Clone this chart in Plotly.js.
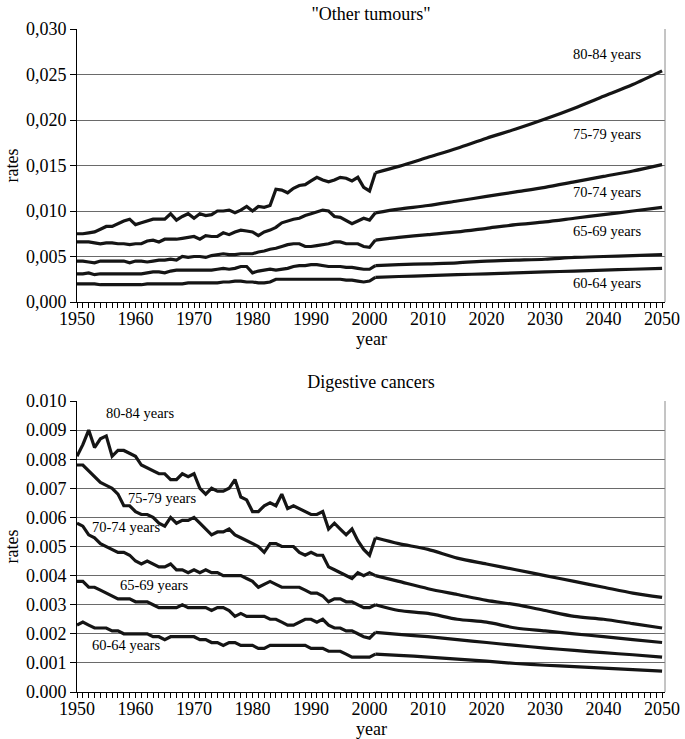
<!DOCTYPE html>
<html><head><meta charset="utf-8">
<script src="https://cdn.plot.ly/plotly-3.0.1.min.js"></script>
<style>html,body{margin:0;padding:0;background:#fff;overflow:hidden}</style>
</head><body>
<div id="top" style="width:685px;height:370px"></div>
<div id="bot" style="width:685px;height:369px"></div>
<script>
// x values: annual 1950-2001, then projections every 5 years
const years = [1950,1951,1952,1953,1954,1955,1956,1957,1958,1959,
  1960,1961,1962,1963,1964,1965,1966,1967,1968,1969,
  1970,1971,1972,1973,1974,1975,1976,1977,1978,1979,
  1980,1981,1982,1983,1984,1985,1986,1987,1988,1989,
  1990,1991,1992,1993,1994,1995,1996,1997,1998,1999,
  2000,2001,2005,2010,2015,2020,2025,2030,2035,2040,2045,2050];

const ageGroups = ['60-64 years','65-69 years','70-74 years','75-79 years','80-84 years'];

// "Other tumours"
const other6064 = [0.0020,0.0020,0.0020,0.0020,0.0019,0.0019,0.0019,0.0019,0.0019,0.0019,
  0.0019,0.0019,0.0020,0.0020,0.0020,0.0020,0.0020,0.0020,0.0020,0.0021,
  0.0021,0.0021,0.0021,0.0021,0.0021,0.0022,0.0022,0.0023,0.0023,0.0022,
  0.0022,0.0021,0.0021,0.0022,0.0025,0.0025,0.0025,0.0025,0.0025,0.0025,
  0.0025,0.0025,0.0025,0.0025,0.0025,0.0025,0.0024,0.0024,0.0023,0.0022,
  0.0023,
  0.0027,0.0028,0.0029,0.0030,0.0031,0.0032,0.0033,0.0034,0.0035,0.0036,0.0037];
const other6569 = [0.0031,0.0031,0.0032,0.0030,0.0031,0.0031,0.0031,0.0031,0.0031,0.0031,
  0.0031,0.0031,0.0032,0.0033,0.0033,0.0032,0.0034,0.0035,0.0035,0.0035,
  0.0035,0.0035,0.0035,0.0035,0.0036,0.0037,0.0036,0.0037,0.0039,0.0039,
  0.0032,0.0034,0.0035,0.0036,0.0035,0.0036,0.0037,0.0039,0.0040,0.0040,
  0.0041,0.0041,0.0040,0.0039,0.0039,0.0039,0.0038,0.0038,0.0037,0.0036,
  0.0036,
  0.0040,0.0041,0.0042,0.0043,0.0045,0.0046,0.0047,0.0049,0.0050,0.0051,0.0052];
const other7074 = [0.0045,0.0045,0.0044,0.0043,0.0045,0.0045,0.0045,0.0045,0.0045,0.0043,
  0.0045,0.0045,0.0044,0.0045,0.0046,0.0046,0.0047,0.0046,0.0050,0.0049,
  0.0050,0.0050,0.0049,0.0051,0.0052,0.0053,0.0052,0.0052,0.0053,0.0053,
  0.0053,0.0055,0.0056,0.0058,0.0059,0.0061,0.0063,0.0064,0.0064,0.0061,
  0.0061,0.0062,0.0063,0.0064,0.0066,0.0066,0.0064,0.0064,0.0064,0.0061,
  0.0060,
  0.0068,0.0071,0.0074,0.0077,0.0081,0.0085,0.0088,0.0092,0.0096,0.0100,0.0104];
const other7579 = [0.0066,0.0066,0.0066,0.0065,0.0064,0.0065,0.0065,0.0064,0.0064,0.0063,
  0.0064,0.0064,0.0067,0.0068,0.0066,0.0069,0.0069,0.0069,0.0070,0.0071,
  0.0072,0.0069,0.0073,0.0072,0.0072,0.0076,0.0074,0.0077,0.0079,0.0078,
  0.0077,0.0073,0.0077,0.0079,0.0082,0.0087,0.0089,0.0091,0.0092,0.0095,
  0.0097,0.0099,0.0101,0.0100,0.0094,0.0093,0.0089,0.0086,0.0089,0.0092,
  0.0090,
  0.0098,0.0102,0.0106,0.0111,0.0116,0.0121,0.0126,0.0132,0.0138,0.0144,0.0151];
const other8084 = [0.0075,0.0075,0.0076,0.0077,0.0080,0.0083,0.0083,0.0086,0.0089,0.0091,
  0.0085,0.0087,0.0089,0.0091,0.0091,0.0091,0.0097,0.0090,0.0094,0.0097,
  0.0092,0.0097,0.0095,0.0096,0.0100,0.0100,0.0101,0.0098,0.0101,0.0105,
  0.0100,0.0105,0.0104,0.0106,0.0124,0.0123,0.0120,0.0125,0.0128,0.0129,
  0.0133,0.0137,0.0134,0.0132,0.0134,0.0137,0.0136,0.0133,0.0137,0.0126,
  0.0122,
  0.0142,0.0149,0.0159,0.0169,0.0180,0.0190,0.0201,0.0213,0.0226,0.0239,0.0254];

// Digestive cancers
const dig6064 = [0.0023,0.0024,0.0023,0.0022,0.0022,0.0022,0.0021,0.0021,0.0020,0.0020,
  0.0020,0.0020,0.0020,0.0019,0.0019,0.0018,0.0019,0.0019,0.0019,0.0019,
  0.0019,0.0018,0.0018,0.0017,0.0017,0.0016,0.0017,0.0017,0.0016,0.0016,
  0.0016,0.0015,0.0015,0.0016,0.0016,0.0016,0.0016,0.0016,0.0016,0.0016,
  0.0015,0.0015,0.0015,0.0014,0.0014,0.0014,0.0013,0.0012,0.0012,0.0012,
  0.0012,
  0.00130,0.00126,0.00120,0.00113,0.00106,0.00098,0.00092,0.00087,0.00082,0.00077,0.00072];
const dig6569 = [0.0038,0.0038,0.0036,0.0036,0.0035,0.0034,0.0033,0.0032,0.0032,0.0032,
  0.0031,0.0031,0.0031,0.0030,0.0029,0.0029,0.0029,0.0029,0.0030,0.0029,
  0.0029,0.0029,0.0029,0.0028,0.0029,0.0029,0.0028,0.0026,0.0027,0.0026,
  0.0026,0.0026,0.0026,0.0025,0.0025,0.0024,0.0023,0.0023,0.0024,0.0025,
  0.0025,0.0024,0.0025,0.0023,0.0022,0.0022,0.0021,0.0021,0.0020,0.0019,
  0.00185,
  0.00205,0.00198,0.00190,0.00180,0.00170,0.00160,0.00151,0.00143,0.00135,0.00128,0.00120];
const dig7074 = [0.0058,0.0057,0.0054,0.0053,0.0051,0.0050,0.0049,0.0048,0.0048,0.0047,
  0.0045,0.0044,0.0045,0.0044,0.0043,0.0043,0.0044,0.0042,0.0042,0.0041,
  0.0042,0.0041,0.0042,0.0041,0.0041,0.0040,0.0040,0.0040,0.0040,0.0039,
  0.0038,0.0036,0.0037,0.0038,0.0037,0.0036,0.0036,0.0036,0.0036,0.0035,
  0.0034,0.0034,0.0033,0.0031,0.0032,0.0032,0.0031,0.0031,0.0030,0.0029,
  0.0029,
  0.0030,0.0028,0.0027,0.0025,0.0024,0.0022,0.0021,0.0020,0.0019,0.0018,0.0017];
const dig7579 = [0.0078,0.0078,0.0076,0.0074,0.0072,0.0071,0.0070,0.0068,0.0064,0.0064,
  0.0062,0.0061,0.0061,0.0060,0.0058,0.0057,0.0060,0.0058,0.0059,0.0059,
  0.0060,0.0058,0.0056,0.0054,0.0055,0.0055,0.0056,0.0054,0.0053,0.0052,
  0.0051,0.0050,0.0048,0.0051,0.0051,0.0050,0.0050,0.0050,0.0048,0.0047,
  0.0048,0.0047,0.0047,0.0043,0.0042,0.0041,0.0040,0.0039,0.0041,0.0040,
  0.0041,
  0.00400,0.00380,0.00355,0.00335,0.00315,0.00300,0.00280,0.00260,0.00250,0.00235,0.00220];
const dig8084 = [0.0081,0.0085,0.0090,0.0084,0.0087,0.0088,0.0081,0.0083,0.0083,0.0082,
  0.0081,0.0078,0.0077,0.0076,0.0075,0.0075,0.0073,0.0073,0.0075,0.0074,
  0.0075,0.0070,0.0068,0.0070,0.0069,0.0069,0.0070,0.0073,0.0067,0.0066,
  0.0062,0.0062,0.0064,0.0065,0.0064,0.0068,0.0063,0.0064,0.0063,0.0062,
  0.0061,0.0061,0.0062,0.0056,0.0058,0.0056,0.0054,0.0056,0.0052,0.0049,
  0.0047,
  0.0053,0.0051,0.0049,0.0046,0.0044,0.0042,0.0040,0.0038,0.0036,0.0034,0.00325];

const otherSeries = [other6064, other6569, other7074, other7579, other8084];
const digSeries = [dig6064, dig6569, dig7074, dig7579, dig8084];

const FONT = 'Liberation Serif, Times New Roman, serif';
const SPLIT = years.indexOf(2001); // observed data up to 2001, smooth projection afterwards

function traces(series) {
  const out = [];
  series.forEach((vals, i) => {
    out.push({type: 'scatter', mode: 'lines', x: years.slice(0, SPLIT + 1), y: vals.slice(0, SPLIT + 1),
      name: ageGroups[i], line: {color: '#151515', width: 3.2}, hoverinfo: 'skip'});
    out.push({type: 'scatter', mode: 'lines', x: years.slice(SPLIT), y: vals.slice(SPLIT),
      name: ageGroups[i], line: {color: '#151515', width: 3.2, shape: 'spline', smoothing: 0.8}, hoverinfo: 'skip'});
  });
  return out;
}

function xaxisDef() {
  return {
    range: [1950, 2050.5], tick0: 1950, dtick: 10, ticks: 'outside', ticklen: 5,
    tickcolor: '#000', tickwidth: 1, showline: true, linecolor: '#000', linewidth: 1,
    showgrid: false, zeroline: false, ticklabelstandoff: -5,
    tickfont: {family: FONT, size: 18, color: '#000'},
    minor: {dtick: 1, ticks: 'outside', ticklen: 5, tickcolor: '#000', tickwidth: 1, showgrid: false},
    automargin: false, fixedrange: true
  };
}

function yaxisDef(maxv, step) {
  return {
    range: [0, maxv], tick0: 0, dtick: step, tickformat: '.3f', ticks: 'outside', ticklen: 6,
    tickcolor: '#000', showline: true, linecolor: '#000', linewidth: 1,
    showgrid: true, gridcolor: '#6a6a6a', gridwidth: 1, zeroline: false,
    tickfont: {family: FONT, size: 18, color: '#000'},
    title: {text: 'rates', font: {family: FONT, size: 18, color: '#000'}, standoff: 2},
    automargin: false, fixedrange: true
  };
}

function labelAnn(x, y, text) {
  return {x: x, y: y, xref: 'x', yref: 'y', text: text, showarrow: false,
    xanchor: 'center', yanchor: 'middle', font: {family: FONT, size: 14.5, color: '#000'}};
}

const yearTitle = {x: 0.5, y: 0, xref: 'paper', yref: 'paper', xanchor: 'center', yanchor: 'middle',
  yshift: -37, text: 'year', showarrow: false, font: {family: FONT, size: 18, color: '#000'}};

const borderShape = {type: 'line', xref: 'paper', yref: 'paper', x0: 1, x1: 1, y0: 0, y1: 1,
  line: {color: '#8a8a8a', width: 1}};

const topLayout = {
  width: 685, height: 370, separators: ',.',
  margin: {l: 77, r: 20, t: 29, b: 68},
  paper_bgcolor: '#fff', plot_bgcolor: '#fff', showlegend: false,
  title: {text: '"Other tumours"', x: 0.5, xref: 'paper', xanchor: 'center',
    y: 1 - 14/370, yref: 'container', yanchor: 'middle',
    font: {family: FONT, size: 18, color: '#000'}},
  xaxis: xaxisDef(), yaxis: yaxisDef(0.030, 0.005),
  shapes: [borderShape],
  annotations: [
    yearTitle,
    labelAnn(2040.6, 0.02723, ageGroups[4]),
    labelAnn(2040.6, 0.01841, ageGroups[3]),
    labelAnn(2040.6, 0.01205, ageGroups[2]),
    labelAnn(2040.6, 0.00775, ageGroups[1]),
    labelAnn(2040.6, 0.00206, ageGroups[0])
  ]
};

const botLayout = {
  width: 685, height: 369, separators: '.,',
  margin: {l: 77, r: 20, t: 31, b: 47},
  paper_bgcolor: '#fff', plot_bgcolor: '#fff', showlegend: false,
  title: {text: 'Digestive cancers', x: 0.5, xref: 'paper', xanchor: 'center',
    y: 1 - 12/369, yref: 'container', yanchor: 'middle',
    font: {family: FONT, size: 18, color: '#000'}},
  xaxis: xaxisDef(), yaxis: yaxisDef(0.010, 0.001),
  shapes: [borderShape],
  annotations: [
    yearTitle,
    labelAnn(1960.85, 0.0096, ageGroups[4]),
    labelAnn(1964.6, 0.00665, ageGroups[3]),
    labelAnn(1958.4, 0.00567, ageGroups[2]),
    labelAnn(1963.2, 0.00368, ageGroups[1]),
    labelAnn(1958.4, 0.00162, ageGroups[0])
  ]
};

const cfg = {staticPlot: true, displayModeBar: false};
Plotly.newPlot('top', traces(otherSeries), topLayout, cfg);
Plotly.newPlot('bot', traces(digSeries), botLayout, cfg);
</script>
</body></html>
